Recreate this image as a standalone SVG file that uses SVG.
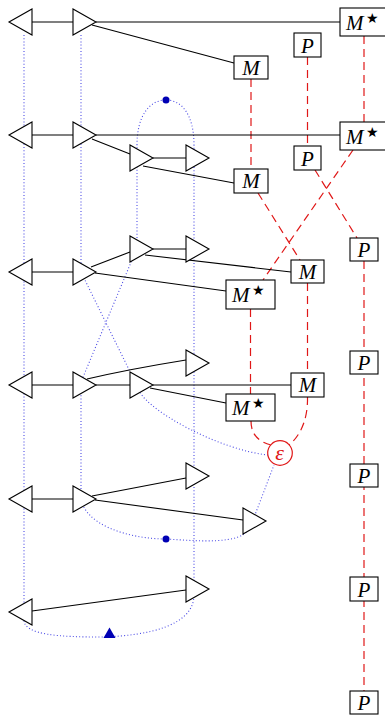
<svg xmlns="http://www.w3.org/2000/svg" width="385" height="718" viewBox="0 0 385 718">
<style>
.dot{fill:none;stroke:#2a2ae0;stroke-width:1.1;stroke-dasharray:1 2.2;stroke-opacity:0.85}
.red{fill:none;stroke:#e01818;stroke-width:1.2;stroke-dasharray:8 5}
.edge{fill:none;stroke:#000;stroke-width:1.1}
.tri{fill:#fff;stroke:#000;stroke-width:1.1}
.box{fill:#fff;stroke:#000;stroke-width:1.1}
.lbl{font-family:"Liberation Serif",serif;font-style:italic;font-size:21px;fill:#000}
.star{font-family:"DejaVu Sans",sans-serif;font-size:14px;fill:#000}
.mk{fill:#0000b4}
</style>
<g id="connectors">
  <path class="dot" d="M24 35 V620 C24 635 60 637 100 637 C150 636 194 625 194 595 V145 C194 115 182 100 166 100 C150 100 137 115 137 145 V248 L81 382 V495 C81 525 130 539 166 539 C200 541 240 545 250 528 L274 465"/>
  <path class="dot" d="M81 35 V272 L140 392 C150 412 220 450 268 455"/>
  <path class="red" d="M364 36 V122"/>
  <path class="red" d="M307.5 57 V146"/>
  <path class="red" d="M251 79 V169"/>
  <path class="red" d="M258 193 L300 260"/>
  <path class="red" d="M353 150 L263 280"/>
  <path class="red" d="M315 170 L357 238"/>
  <path class="red" d="M364 261 V691"/>
  <path class="red" d="M307.5 283 V373"/>
  <path class="red" d="M250.5 309 V394"/>
  <path class="red" d="M251 421 C251 436 260 442 271 445"/>
  <path class="red" d="M307.5 397 C308 420 300 436 289 445"/>
  <path class="edge" d="M32 22 H73 M96 22 H340 M92 25 L234 63"/>
  <path class="edge" d="M32 135 H73 M96 135 H340 M92 139 L130 154 M153 158 H186 M143 166 L234 183"/>
  <path class="edge" d="M32 272 H73 M91 267 L130 252 M153 249 H186 M145 255 L291 272 M95 273 L226 291"/>
  <path class="edge" d="M32 385 H73 M87 379 Q130 369 186 360 M96 385 H130 M153 385 H291 M150 388 L226 403"/>
  <path class="edge" d="M32 499 H73 M92 496 L186 478 M95 500 L243 520"/>
  <path class="edge" d="M32 611 L186 590"/>
</g>
<g id="triangles">
  <polygon class="tri" points="9,22 32,9 32,35"/>
  <polygon class="tri" points="73,9 73,35 96,22"/>
  <polygon class="tri" points="9,135 32,122 32,148"/>
  <polygon class="tri" points="73,122 73,148 96,135"/>
  <polygon class="tri" points="130,145 130,171 153,158"/>
  <polygon class="tri" points="186,145 186,171 209,158"/>
  <polygon class="tri" points="9,272 32,259 32,285"/>
  <polygon class="tri" points="73,259 73,285 96,272"/>
  <polygon class="tri" points="130,236 130,262 153,249"/>
  <polygon class="tri" points="186,236 186,262 209,249"/>
  <polygon class="tri" points="9,385 32,372 32,398"/>
  <polygon class="tri" points="73,372 73,398 96,385"/>
  <polygon class="tri" points="130,372 130,398 153,385"/>
  <polygon class="tri" points="186,350 186,376 209,363"/>
  <polygon class="tri" points="9,499 32,486 32,512"/>
  <polygon class="tri" points="73,486 73,512 96,499"/>
  <polygon class="tri" points="186,463 186,489 209,476"/>
  <polygon class="tri" points="243,508 243,534 266,521"/>
  <polygon class="tri" points="9,612 32,599 32,625"/>
  <polygon class="tri" points="186,576 186,602 209,589"/>
</g>
<g id="M1"><rect class="box" x="234" y="56" width="34" height="23"/><text class="lbl" x="251" y="74.5" text-anchor="middle">M</text></g>
<g id="P1"><rect class="box" x="294" y="33" width="27" height="24"/><text class="lbl" x="307.5" y="52.5" text-anchor="middle">P</text></g>
<g id="Ms1"><rect class="box" x="340" y="8" width="49" height="28"/><text class="lbl" x="346" y="30">M</text><text class="star" x="366" y="23">★</text></g>
<g id="Ms2"><rect class="box" x="340" y="122" width="49" height="28"/><text class="lbl" x="346" y="144">M</text><text class="star" x="366" y="137">★</text></g>
<g id="P2"><rect class="box" x="294" y="146" width="27" height="24"/><text class="lbl" x="307.5" y="165.5" text-anchor="middle">P</text></g>
<g id="M2"><rect class="box" x="234" y="169" width="34" height="24"/><text class="lbl" x="251" y="188" text-anchor="middle">M</text></g>
<g id="P3"><rect class="box" x="350" y="238" width="28" height="23"/><text class="lbl" x="364" y="256.5" text-anchor="middle">P</text></g>
<g id="M3"><rect class="box" x="291" y="260" width="33" height="23"/><text class="lbl" x="307.5" y="278.5" text-anchor="middle">M</text></g>
<g id="Ms3"><rect class="box" x="226" y="280" width="49" height="29"/><text class="lbl" x="232" y="302">M</text><text class="star" x="252" y="295">★</text></g>
<g id="P4"><rect class="box" x="350" y="351" width="28" height="23"/><text class="lbl" x="364" y="369.5" text-anchor="middle">P</text></g>
<g id="M4"><rect class="box" x="291" y="373" width="33" height="24"/><text class="lbl" x="307.5" y="392" text-anchor="middle">M</text></g>
<g id="Ms4"><rect class="box" x="226" y="394" width="49" height="27"/><text class="lbl" x="232" y="415">M</text><text class="star" x="252" y="408">★</text></g>
<g id="P5"><rect class="box" x="350" y="464" width="28" height="23"/><text class="lbl" x="364" y="482.5" text-anchor="middle">P</text></g>
<g id="P6"><rect class="box" x="350" y="577" width="28" height="24"/><text class="lbl" x="364" y="596.5" text-anchor="middle">P</text></g>
<g id="P7"><rect class="box" x="350" y="691" width="28" height="23"/><text class="lbl" x="364" y="709.5" text-anchor="middle">P</text></g>
<g id="eps"><circle cx="280" cy="453" r="12.3" fill="#fff" stroke="#e01818" stroke-width="1.2"/><text x="279.5" y="459.5" text-anchor="middle" font-family="Liberation Serif,serif" font-style="italic" font-size="22" fill="#e01818">ε</text></g>
<g id="markers">
  <circle class="mk" cx="166" cy="100" r="3.5"/>
  <circle class="mk" cx="166" cy="539" r="3.5"/>
  <polygon class="mk" points="103.5,638 115.5,638 109.5,627.5"/>
</g>
</svg>
